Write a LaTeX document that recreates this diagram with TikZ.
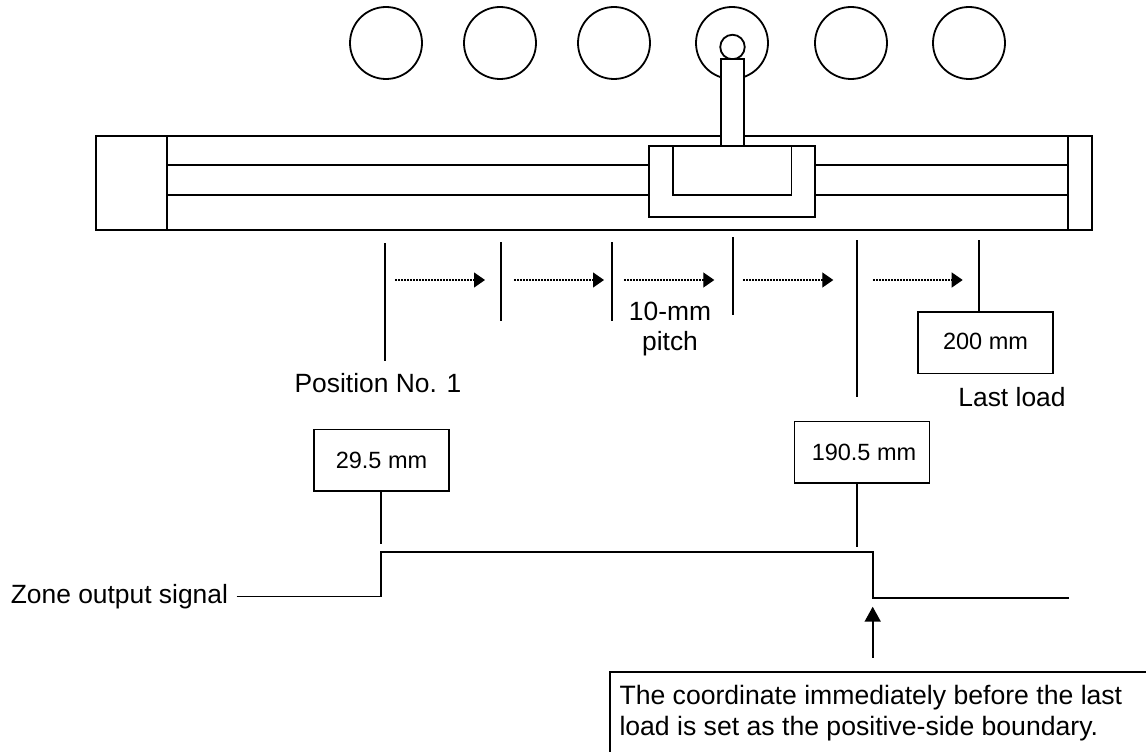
\documentclass[tikz,border=0pt]{standalone}
\usepackage{fontspec}
\setmainfont{Liberation Sans}
\usetikzlibrary{arrows.meta,positioning}

\begin{document}
\begin{tikzpicture}[
 x=1pt,y=-1pt,
 line/.style={line width=1.8pt},
 ball/.style={line,draw,circle,inner sep=0pt,minimum size=72pt},
 part/.style={line,draw,fill=white,inner sep=0pt},
 label/.style={font=\fontsize{26.4}{30}\selectfont,inner sep=0pt,align=center},
 valuebox/.style={line,draw,inner sep=0pt,minimum width=135pt,minimum height=61.5pt,font=\fontsize{23.5}{28}\selectfont},
 pitch/.style={-{Triangle[length=11pt,width=15pt]},line width=1.2pt,dash pattern=on 1.5pt off 1.5pt},
 push/.style={line,-{Triangle[length=15pt,width=16pt]}}]
\useasboundingbox (0,0) rectangle (1146,752);
\node[ball] (ballA) at (386,43) {};
\node[ball] (ballB) at (500,43) {};
\node[ball] (ballC) at (614,43) {};
\node[ball] (ballD) at (732,43) {};
\node[ball] (ballE) at (851,43) {};
\node[ball] (ballF) at (969,43) {};
\node[part,circle,minimum size=24.5pt] (pin) at (732.5,47) {};
\node[part,minimum width=995.5pt,minimum height=94.5pt] (base) at (594,183) {};
\node[part,minimum width=71pt,minimum height=94.5pt] (capL) at (131.7,183) {};
\node[part,minimum width=23.7pt,minimum height=94.5pt] (capR) at (1080.2,183) {};
\draw[line] (capL.east|-0,165.3)--(capR.west|-0,165.3);
\draw[line] (capL.east|-0,195.3)--(capR.west|-0,195.3);
\node[part,minimum width=23.5pt,minimum height=88pt] (rod) at (732.5,103) {};
\node[part,minimum width=165.7pt,minimum height=71pt] (slider) at (732.2,181.5) {};
\node[part,minimum width=118.5pt,minimum height=49pt] (bore) at (732.2,170.8) {};
\draw[line] (384.7,243)--(384.7,360.7);
\draw[line] (501,242)--(501,321);
\draw[line] (612,242)--(612,321);
\draw[line] (733,237)--(733,315);
\draw[line] (856.7,240)--(856.7,396.7);
\coordinate (lastTop) at (979.3,240);
\draw[pitch] (395,280)--(485,280);
\draw[pitch] (514,280)--(604,280);
\draw[pitch] (624,280)--(714.3,280);
\draw[pitch] (743,280)--(833.3,280);
\draw[pitch] (873.3,280)--(962.7,280);
\node[label] (tenmm) at (670,329) {10-mm\\pitch};
\node[valuebox] (lastBox) at (985.5,342.8) {\raisebox{3.5pt}{200 mm}};
\node[label,anchor=base] (lastName) at (1012,406.7) {Last load};
\node[label,anchor=base] (posName) at (378,392.7) {Position No. 1};
\node[valuebox] (startBox) at (381.5,460.3) {29.5 mm};
\node[valuebox,xshift=2pt] (endBox) at (860,452.3) {\hspace{4pt}190.5 mm};
\node[label,anchor=east,inner sep=8.5pt] (zone) at (236.7,596.5) {Zone output signal};
\coordinate (rise) at (380.7,551.7);
\coordinate (fall) at (872.7,551.7);
\coordinate (signalEnd) at (1069.3,598);
\coordinate (startFoot) at (381.3,544);
\coordinate (endFoot) at (857.3,547);
\coordinate (pushFoot) at (872.7,657.7);
\coordinate (pushTip) at (872.7,606.7);
\draw[line] (lastTop)--(lastTop|-lastBox.north);
\draw[line] (zone.east)-|(rise)--(fall)|-(signalEnd);
\draw[line] (startBox.south-|startFoot)--(startFoot);
\draw[line] (endBox.south-|endFoot)--(endFoot);
\draw[push] (pushFoot)--(pushTip);
\draw[line] (610,752)|-(1146,672);
\node[label,align=left,anchor=north west,font=\fontsize{26.6}{31}\selectfont] (note) at (619.3,685) {The coordinate immediately before the last\\load is set as the positive-side boundary.};
\end{tikzpicture}
\end{document}
